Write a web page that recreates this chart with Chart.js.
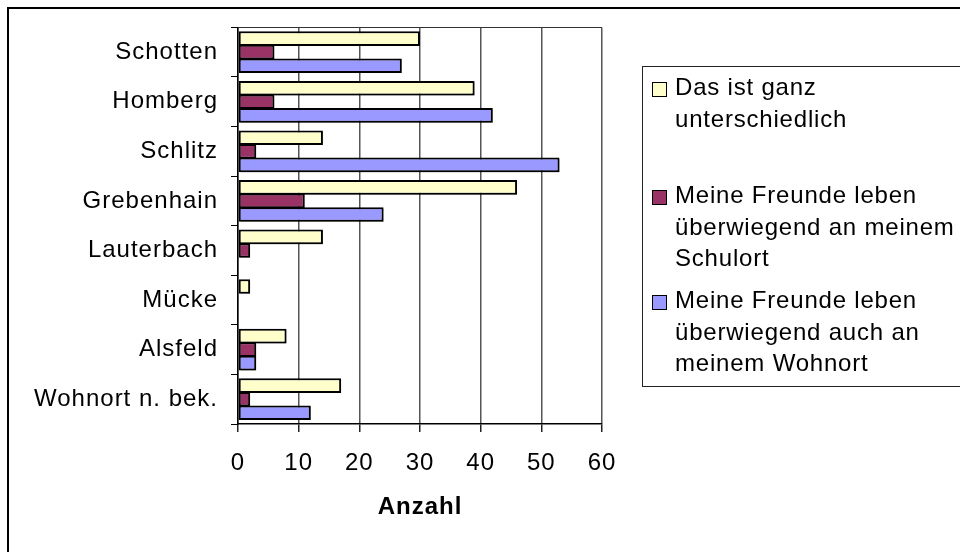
<!DOCTYPE html>
<html>
<head>
<meta charset="utf-8">
<script src="https://cdn.jsdelivr.net/npm/chart.js@4/dist/chart.umd.min.js"></script>
<style>
  html, body { margin: 0; padding: 0; background: #fff; }
  #wrap { width: 960px; height: 552px; position: relative; }
</style>
</head>
<body>
<div id="wrap"><canvas id="chart" width="960" height="552"></canvas></div>
<script>
// ── Data ──
const categories = ['Schotten', 'Homberg', 'Schlitz', 'Grebenhain', 'Lauterbach', 'Mücke', 'Alsfeld', 'Wohnort n. bek.'];
const ganzUnterschiedlich = [30, 39, 14, 46, 14, 2, 8, 17];
const anSchulort          = [6, 6, 3, 11, 2, 0, 3, 2];
const anWohnort           = [27, 42, 53, 24, 0, 0, 3, 12];
const xMin = 0, xMax = 60, xStep = 10;
const axisTitle = 'Anzahl';

const seriesNames = [
  ['Das ist ganz', 'unterschiedlich'],
  ['Meine Freunde leben', 'überwiegend an meinem', 'Schulort'],
  ['Meine Freunde leben', 'überwiegend auch an', 'meinem Wohnort'],
];
const seriesColors = ['#FFFFCC', '#993366', '#9999FF'];

const FONT = "'Liberation Sans', Arial, sans-serif";

// ── Frame, plot top border and legend ──
const decorPlugin = {
  id: 'decor',
  beforeDraw(chart) {
    // wider glyph spacing like the original rendering
    chart.ctx.letterSpacing = '1px';
  },
  beforeDatasetsDraw(chart) {
    var ctx = chart.ctx;
    ctx.save();
    ctx.shadowColor = 'rgba(0,0,0,0.3)';
    ctx.shadowOffsetX = 1.5;
    ctx.shadowOffsetY = 1.5;
  },
  afterDatasetsDraw(chart) {
    chart.ctx.restore();
  },
  afterDraw(chart) {
    var ctx  = chart.ctx;
    var area = chart.chartArea;
    ctx.save();

    // outer frame (only top/left visible)
    ctx.fillStyle = '#000';
    ctx.fillRect(7, 7, 960, 2);
    ctx.fillRect(7, 7, 2, 552);

    // plot top border
    ctx.strokeStyle = '#333';
    ctx.lineWidth = 1;
    ctx.beginPath();
    ctx.moveTo(area.left, Math.round(area.top) + 0.5);
    ctx.lineTo(area.right, Math.round(area.top) + 0.5);
    ctx.stroke();

    // legend box
    ctx.strokeStyle = '#222';
    ctx.strokeRect(642.5, 66.5, 400, 320);

    var starts = [95, 203, 308];
    var step   = 31.5;
    ctx.font = '24px ' + FONT;
    ctx.letterSpacing = '0.8px';
    ctx.textAlign = 'left';
    ctx.textBaseline = 'alphabetic';
    seriesNames.forEach(function(lines, i) {
      var by = starts[i];
      ctx.fillStyle = seriesColors[i];
      ctx.fillRect(652, by - 13, 15, 15);
      ctx.strokeStyle = '#000';
      ctx.strokeRect(652.5, by - 12.5, 14, 14);
      ctx.fillStyle = '#000';
      lines.forEach(function(line, j) {
        ctx.fillText(line, 675, by + j * step);
      });
    });
    ctx.restore();
    ctx.letterSpacing = '0px';
  },
};

function makeSet(label, data, color) {
  return {
    label              : label,
    data               : data,
    backgroundColor    : color,
    borderColor        : '#000',
    borderWidth        : 2,
    borderSkipped      : false,
    categoryPercentage : 0.82,
    barPercentage      : 1.08,
  };
}

new Chart(document.getElementById('chart').getContext('2d'), {
  type : 'bar',
  data : {
    labels   : categories,
    datasets : [
      makeSet(seriesNames[0].join(' '), ganzUnterschiedlich, seriesColors[0]),
      makeSet(seriesNames[1].join(' '), anSchulort, seriesColors[1]),
      makeSet(seriesNames[2].join(' '), anWohnort, seriesColors[2]),
    ],
  },
  options : {
    indexAxis  : 'y',
    responsive : false,
    animation  : false,
    devicePixelRatio : 1,
    layout : { padding: { left: 0, top: 27, right: 358, bottom: 0 } },
    plugins : {
      legend  : { display: false },
      tooltip : { enabled: false },
    },
    scales : {
      x : {
        min : xMin,
        max : xMax,
        ticks : {
          stepSize : xStep,
          color    : '#000',
          font     : { family: FONT, size: 24 },
          padding  : 17,
        },
        grid : {
          color     : '#555',
          lineWidth : 1.5,
          tickColor : '#222',
          tickLength: 8,
        },
        border : { display: true, color: '#000', width: 1.5 },
        title : {
          display : true,
          text    : axisTitle,
          color   : '#000',
          font    : { family: FONT, size: 24, weight: 'bold' },
          padding : { top: 0, bottom: 30 },
        },
        afterFit : function(scale) { scale.height = 128; },
      },
      y : {
        ticks : {
          color   : '#000',
          font    : { family: FONT, size: 24 },
          padding : 13,
        },
        grid : {
          drawOnChartArea : false,
          drawTicks  : true,
          tickLength : 7,
          tickColor  : '#000',
          offset     : true,
        },
        border : { display: true, color: '#000', width: 1.5 },
        afterFit : function(scale) { scale.width = 238; },
      },
    },
  },
  plugins : [decorPlugin],
});
</script>
</body>
</html>
